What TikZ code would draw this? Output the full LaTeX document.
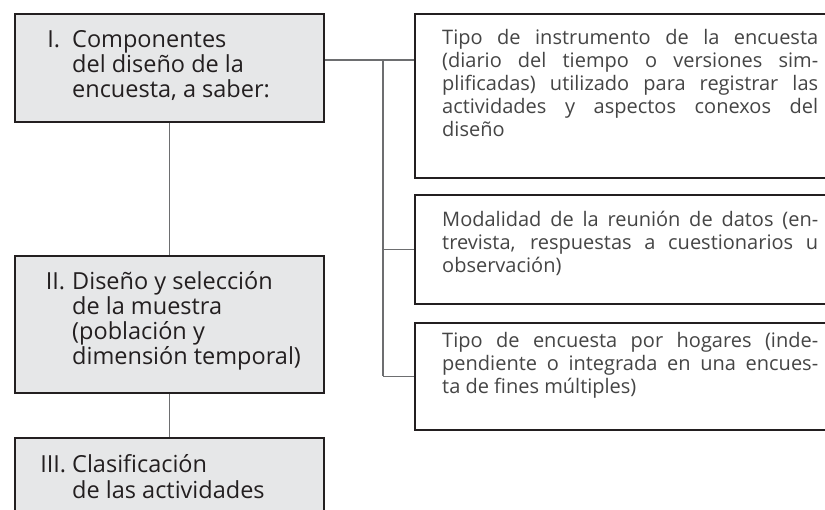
\documentclass[tikz,border=0pt]{standalone}
\usepackage{fontspec}
\setmainfont{Open Sans}
\definecolor{boxfill}{HTML}{E6E7E8}
\definecolor{boxline}{HTML}{231F20}
\definecolor{connline}{HTML}{6D6E70}
\definecolor{rtextcol}{HTML}{454545}
\tikzset{
  lbox/.style={draw=boxline, line width=2pt, fill=boxfill, rectangle, anchor=north west, inner sep=0pt},
  rbox/.style={draw=boxline, line width=2pt, fill=white, rectangle, anchor=north west, inner sep=0pt},
  conn/.style={draw=connline, line width=1.2pt},
  ltext/.style={anchor=base west, inner sep=0pt, text=boxline, font=\fontsize{23.5}{25}\selectfont},
  rtext/.style={anchor=base west, inner sep=0pt, text=rtextcol, font=\fontsize{20}{23}\selectfont},
}
\newcommand{\rpar}[1]{\parbox[t]{376pt}{\tolerance=10000\hbadness=10000\hyphenpenalty=10000\exhyphenpenalty=10000 #1}}
\newcommand{\lpar}[3]{\parbox[t]{250pt}{\leavevmode\llap{#2\hspace{#1}}#3}}
\begin{document}
\begin{tikzpicture}[x=1pt,y=-1pt]
\useasboundingbox (0,0) rectangle (825,510);
\clip (0,0) rectangle (825,510);
% boxes
\node[lbox, minimum width=309pt, minimum height=108pt] (b1) at (14,13) {};
\node[lbox, minimum width=309pt, minimum height=137pt] (b2) at (14,255) {};
\node[lbox, minimum width=309pt, minimum height=100pt] (b3) at (14,437) {};
\node[rbox, minimum width=431pt, minimum height=164pt] (rA) at (414,13) {};
\node[rbox, minimum width=431pt, minimum height=109pt] (rB) at (414,194) {};
\node[rbox, minimum width=431pt, minimum height=107pt] (rC) at (414,322) {};
% connectors
\coordinate (j) at (383,60);
\draw[conn] (j -| b1.east) -- (j -| rA.west);
\draw[conn] (j) -- (j |- rC.west);
\draw[conn] (j |- rB.west) -- (rB.west);
\draw[conn] (j |- rC.west) -- (rC.west);
\draw[conn] (b1.south) -- (b2.north);
\draw[conn] (b2.south) -- (b3.north);
% left texts
\node[ltext] (t1) at (72,48) {\lpar{12pt}{I.}{Componentes\\del diseño de la\\encuesta, a saber:}};
\node[ltext] (t2) at (72,290) {\lpar{7pt}{II.}{Diseño y selección\\de la muestra\\(población y\\dimensión temporal)}};
\node[ltext] (t3) at (72,473) {\lpar{6pt}{III.}{Clasificación\\de las actividades}};
% right texts
\node[rtext] (tA) at (442,45) {\rpar{Tipo de instrumento de la encuesta\linebreak (diario del tiempo o versiones sim-\linebreak plificadas) utilizado para registrar las\linebreak actividades y aspectos conexos del\linebreak diseño}};
\node[rtext] (tB) at (442,227) {\rpar{Modalidad de la reunión de datos (en-\linebreak trevista, respuestas a cuestionarios u\linebreak observación)}};
\node[rtext] (tC) at (442,348) {\rpar{Tipo de encuesta por hogares (inde-\linebreak pendiente o integrada en una encues-\linebreak ta de fines múltiples)}};
\end{tikzpicture}
\end{document}
